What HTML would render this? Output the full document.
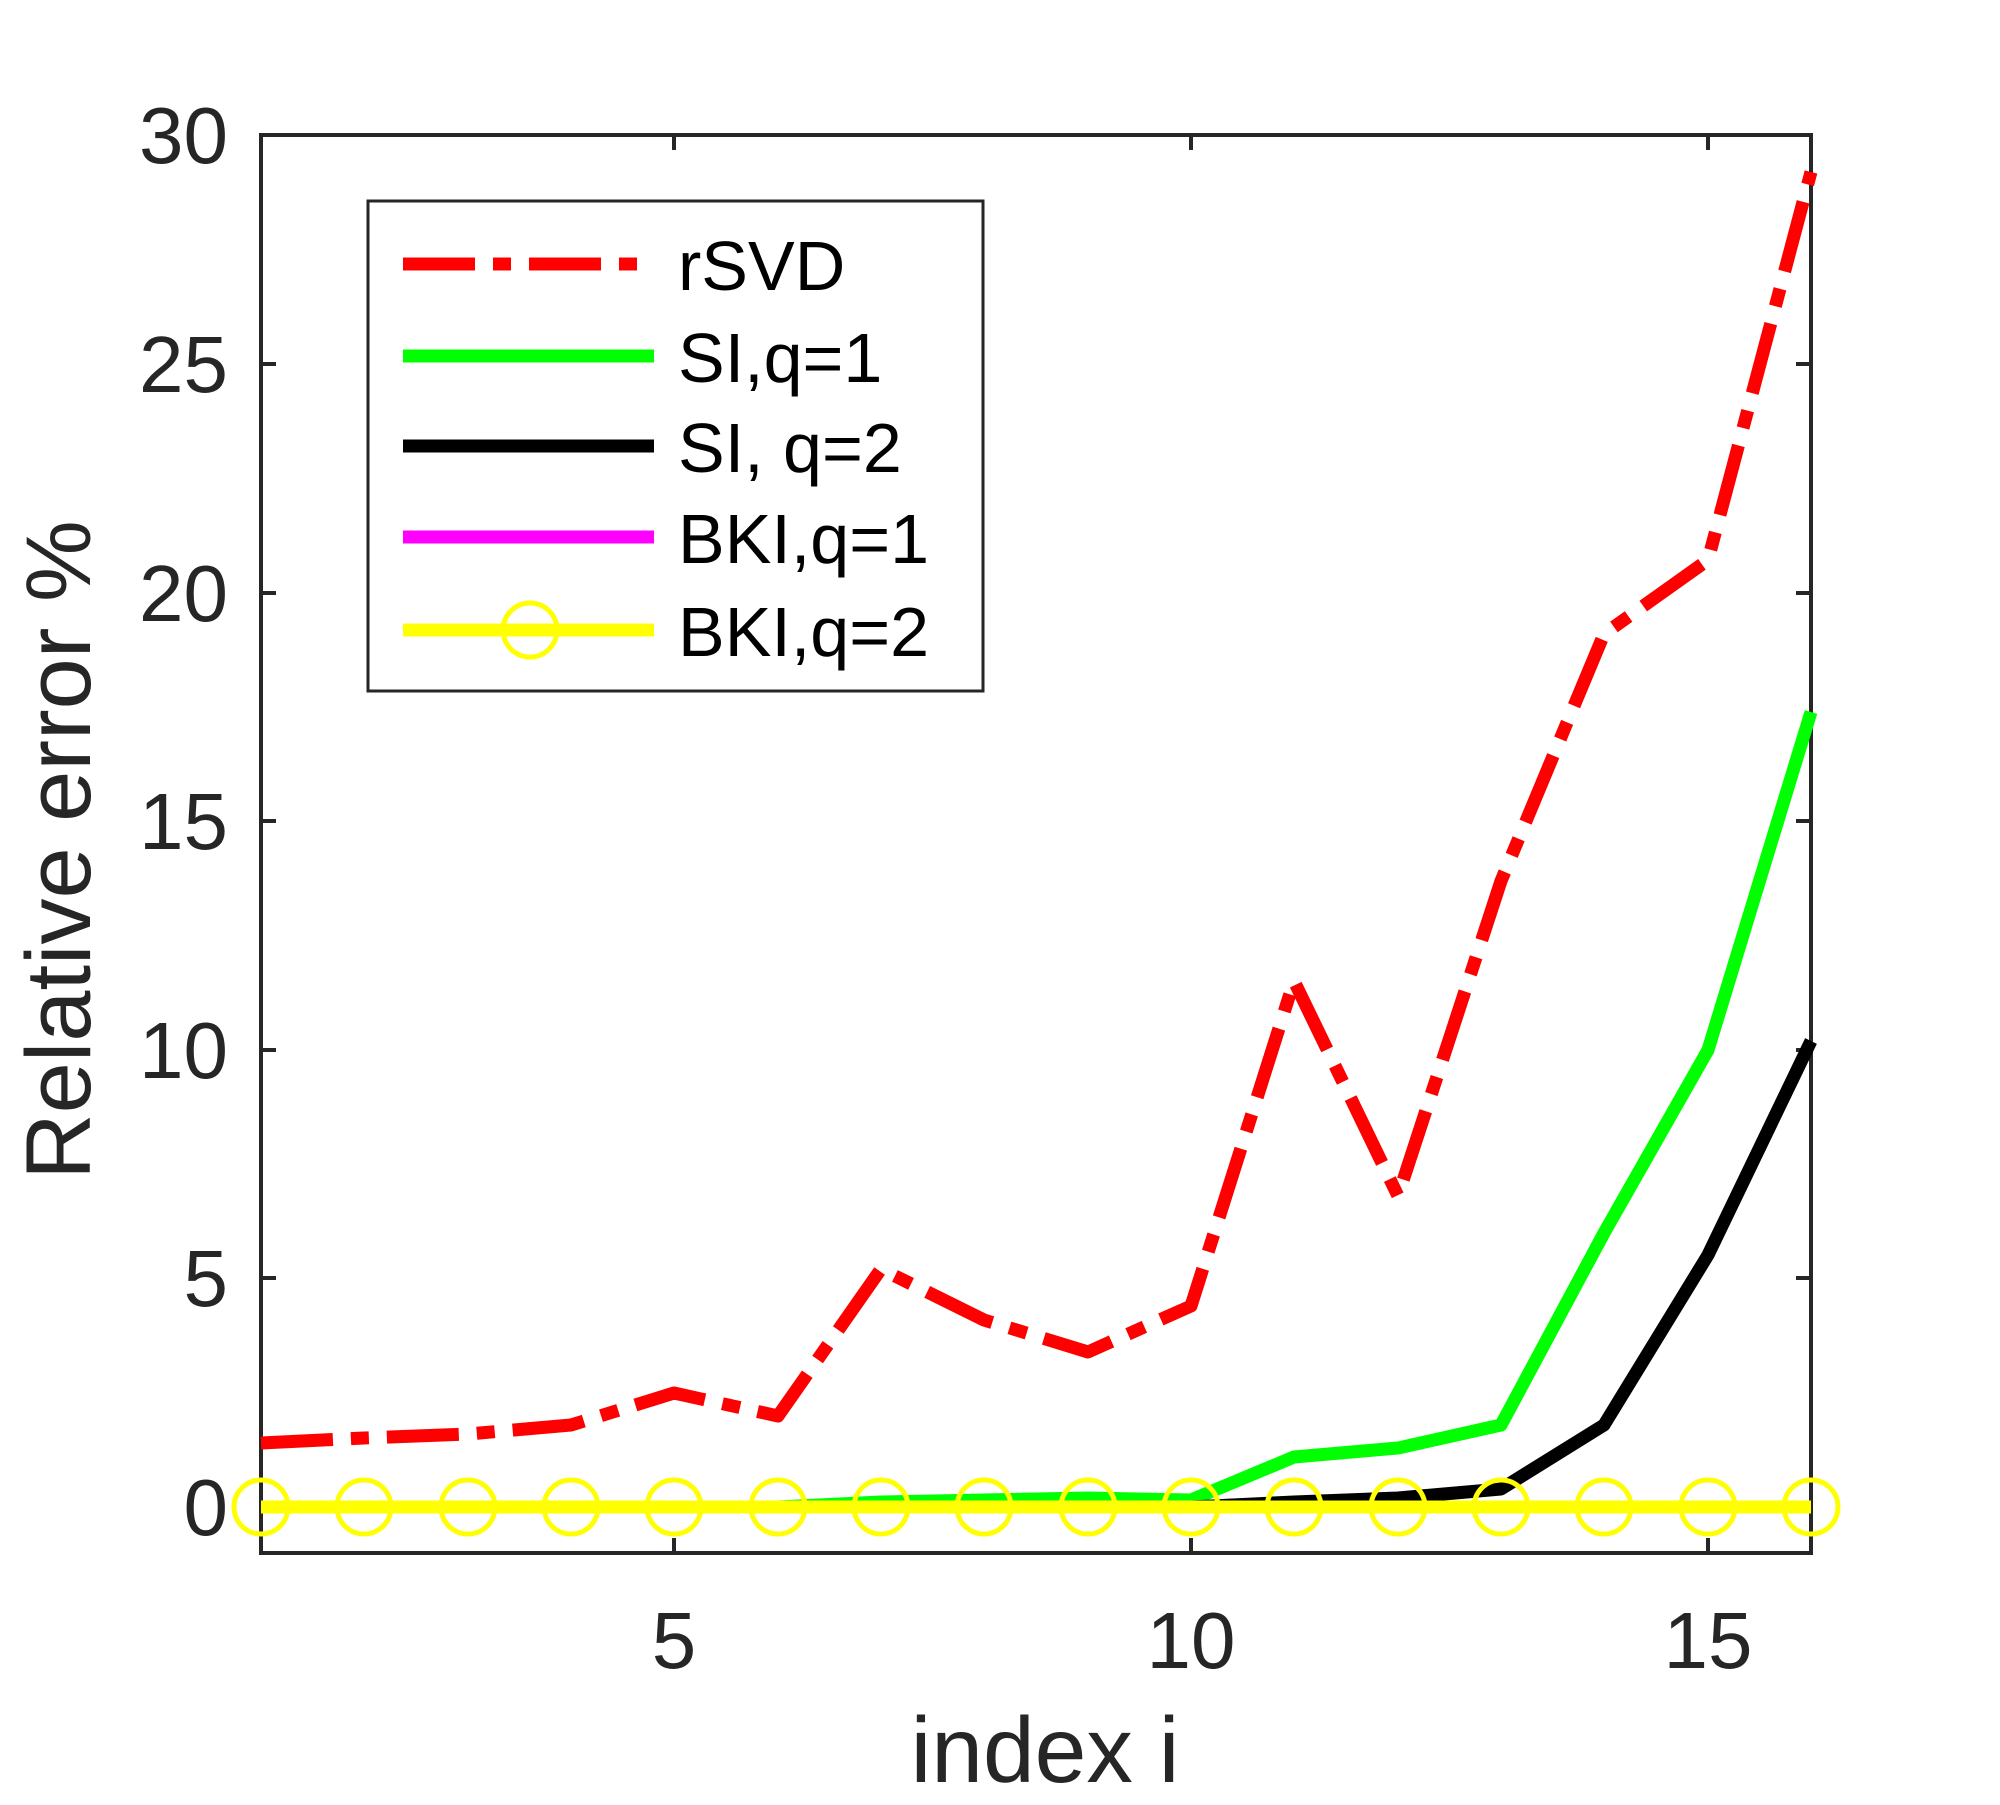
<!DOCTYPE html>
<html><head><meta charset="utf-8"><style>html,body{margin:0;padding:0;background:#fff}</style></head>
<body>
<svg width="2000" height="1800" xmlns="http://www.w3.org/2000/svg" font-family="Liberation Sans, Arial, sans-serif">
<rect width="2000" height="1800" fill="#fff"/>
<g stroke="#262626" stroke-width="4" fill="none">
<rect x="261" y="135" width="1550" height="1418"/>
<path d="M674 1553v-15M674 135v15M1191 1553v-15M1191 135v15M1708 1553v-15M1708 135v15"/>
<path d="M261 1507h15M1811 1507h-15M261 1278h15M1811 1278h-15M261 1050h15M1811 1050h-15M261 821h15M1811 821h-15M261 593h15M1811 593h-15M261 364h15M1811 364h-15M261 135h15M1811 135h-15"/>
</g>
<g fill="#262626" font-size="80">
<g text-anchor="middle">
<text x="674" y="1668">5</text><text x="1191" y="1668">10</text><text x="1708" y="1668">15</text>
</g>
<g text-anchor="end">
<text x="228" y="1535">0</text><text x="228" y="1306">5</text><text x="228" y="1078">10</text><text x="228" y="849">15</text><text x="228" y="621">20</text><text x="228" y="392">25</text><text x="228" y="163">30</text>
</g>
<text x="1045" y="1782" text-anchor="middle" font-size="93">index i</text>
<text transform="translate(90,850) rotate(-90)" text-anchor="middle" font-size="92">Relative error %</text>
</g>
<g fill="none" stroke-linejoin="round" stroke-width="13">
<polyline stroke="#ff0000" stroke-dasharray="72 18 18 18" points="261,1443 364,1438 468,1434 571,1425 674,1393 778,1416 881,1269 984,1320 1088,1352 1191,1306 1294,981 1398,1196 1501,881 1604,634 1708,560 1811,172"/>
<polyline stroke="#00ff00" points="261,1507 364,1507 468,1507 571,1507 674,1507 778,1507 881,1502 984,1500 1088,1498 1191,1500 1294,1457 1398,1448 1501,1425 1604,1233 1708,1050 1811,712"/>
<polyline stroke="#000000" points="261,1507 364,1507 468,1507 571,1507 674,1507 778,1507 881,1507 984,1507 1088,1507 1191,1507 1294,1502 1398,1498 1501,1489 1604,1425 1708,1255 1811,1041"/>
<polyline stroke="#ffff00" points="261,1507 1811,1507"/>
</g>
<g fill="none" stroke="#ffff00" stroke-width="5">
<circle cx="261" cy="1507" r="27"/><circle cx="364" cy="1507" r="27"/><circle cx="468" cy="1507" r="27"/><circle cx="571" cy="1507" r="27"/><circle cx="674" cy="1507" r="27"/><circle cx="778" cy="1507" r="27"/><circle cx="881" cy="1507" r="27"/><circle cx="984" cy="1507" r="27"/><circle cx="1088" cy="1507" r="27"/><circle cx="1191" cy="1507" r="27"/><circle cx="1294" cy="1507" r="27"/><circle cx="1398" cy="1507" r="27"/><circle cx="1501" cy="1507" r="27"/><circle cx="1604" cy="1507" r="27"/><circle cx="1708" cy="1507" r="27"/><circle cx="1811" cy="1507" r="27"/>
</g>
<rect x="368" y="201" width="615" height="490" fill="#fff" stroke="#262626" stroke-width="3"/>
<g stroke-width="13" fill="none">
<line x1="403" y1="264" x2="654" y2="264" stroke="#ff0000" stroke-dasharray="72 18 18 18"/>
<line x1="403" y1="356" x2="654" y2="356" stroke="#00ff00"/>
<line x1="403" y1="446" x2="654" y2="446" stroke="#000"/>
<line x1="403" y1="537" x2="654" y2="537" stroke="#ff00ff"/>
<line x1="403" y1="630" x2="654" y2="630" stroke="#ffff00"/>
</g>
<circle cx="530" cy="630" r="27" fill="none" stroke="#ffff00" stroke-width="5"/>
<g font-size="70" fill="#000">
<text x="678" y="290">rSVD</text>
<text x="678" y="382">SI,q=1</text>
<text x="678" y="472">SI, q=2</text>
<text x="678" y="563">BKI,q=1</text>
<text x="678" y="656">BKI,q=2</text>
</g>
</svg>
</body></html>
